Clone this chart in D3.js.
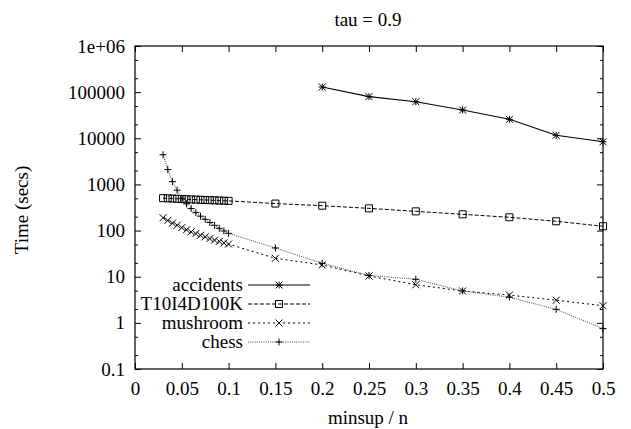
<!DOCTYPE html>
<html>
<head>
<meta charset="utf-8">
<script src="https://cdn.jsdelivr.net/npm/d3@7.9.0/dist/d3.min.js"></script>
<style>
  body { margin: 0; background: #fff; }
  svg { display: block; }
</style>
</head>
<body>
<svg id="chart" width="631" height="429"></svg>
<script>
// values
const xLeft = [0.03, 0.035, 0.04, 0.045, 0.05, 0.055, 0.06, 0.065, 0.07, 0.075, 0.08, 0.085, 0.09, 0.095, 0.1];
const xRight = [0.15, 0.2, 0.25, 0.3, 0.35, 0.4, 0.45, 0.5];

const accidentsX = [0.2, 0.25, 0.3, 0.35, 0.4, 0.45, 0.5];
const accidents = [129000, 80000, 62000, 41000, 25800, 11600, 8400];

const t10 = [505, 500, 494, 488, 483, 478, 474, 469, 465, 460, 456, 452, 448, 444, 440,
             385, 346, 303, 261, 225, 194, 159, 124];
const mushroom = [190, 165, 145, 130, 116, 104, 94, 86, 79, 73, 67, 62, 58, 54, 51,
                  25, 18, 10.4, 6.7, 4.9, 4.0, 3.1, 2.35];
const chess = [4400, 2100, 1150, 750, 500, 380, 300, 245, 205, 175, 150, 130, 112, 98, 87,
               42, 19.5, 10.7, 8.8, 4.9, 3.6, 1.96, 0.75];

const xTicks = [0, 0.05, 0.1, 0.15, 0.2, 0.25, 0.3, 0.35, 0.4, 0.45, 0.5];
const yTicks = [0.1, 1, 10, 100, 1000, 10000, 100000, 1000000];
const yTickLabels = ["0.1", "1", "10", "100", "1000", "10000", "100000", "1e+06"];
const seriesNames = ["accidents", "T10I4D100K", "mushroom", "chess"];

const svg = d3.select('#chart');
const m = { left: 135, right: 603, top: 46, bottom: 369 };

const x = d3.scaleLinear().domain([0, 0.5]).range([m.left, m.right]);
const y = d3.scaleLog().domain([0.1, 1e6]).range([m.bottom, m.top]);

const fs = 19;
const font = '"Liberation Serif", "Times New Roman", Times, "DejaVu Serif", serif';

// minor ticks on log axis
const yMinor = [];
for (const d of yTicks.slice(0, -1)) {
  yMinor.push(d * 2, d * 5);
}

// axes, ticks pointing inward (gnuplot style)
function styleAxis(g) {
  g.select('.domain').remove();
  g.attr('font-family', null).attr('font-size', null);
  g.selectAll('line').attr('stroke', '#000').attr('stroke-width', 1);
  g.selectAll('text').style('font-family', font).style('font-size', fs + 'px').attr('fill', '#000');
}

svg.append('g')
  .attr('transform', `translate(0,${m.bottom})`)
  .call(d3.axisBottom(x).tickValues(xTicks).tickFormat(d3.format('~g')).tickSize(-6).tickPadding(13))
  .call(styleAxis);
svg.append('g')
  .attr('transform', `translate(0,${m.top})`)
  .call(d3.axisTop(x).tickValues(xTicks).tickFormat('').tickSize(-6))
  .call(styleAxis);
svg.append('g')
  .attr('transform', `translate(${m.left},0)`)
  .call(d3.axisLeft(y).tickValues(yTicks).tickFormat((d, i) => yTickLabels[i]).tickSize(-6).tickPadding(10))
  .call(styleAxis);
svg.append('g')
  .attr('transform', `translate(${m.right},0)`)
  .call(d3.axisRight(y).tickValues(yTicks).tickFormat('').tickSize(-6))
  .call(styleAxis);
svg.append('g')
  .attr('transform', `translate(${m.left},0)`)
  .call(d3.axisLeft(y).tickValues(yMinor).tickFormat('').tickSize(-3))
  .call(styleAxis);
svg.append('g')
  .attr('transform', `translate(${m.right},0)`)
  .call(d3.axisRight(y).tickValues(yMinor).tickFormat('').tickSize(-3))
  .call(styleAxis);

// frame
svg.append('rect')
  .attr('x', m.left).attr('y', m.top)
  .attr('width', m.right - m.left).attr('height', m.bottom - m.top)
  .attr('fill', 'none').attr('stroke', '#000').attr('stroke-width', 1.2);

// titles
function label(xp, yp, txt, rot) {
  return svg.append('text')
    .attr('transform', `translate(${xp},${yp})` + (rot ? ` rotate(${rot})` : ''))
    .attr('text-anchor', 'middle')
    .style('font-family', font).style('font-size', fs + 'px').attr('fill', '#000')
    .text(txt);
}
label(368, 26, 'tau = 0.9');
label(368, 424, 'minsup / n');
label(28, 210, 'Time (secs)', -90);

// markers
function marker(g, type, cx, cy) {
  const s = 3.5;
  const path = {
    star: `M${cx - s},${cy}H${cx + s}M${cx},${cy - s}V${cy + s}M${cx - s},${cy - s}L${cx + s},${cy + s}M${cx - s},${cy + s}L${cx + s},${cy - s}`,
    square: `M${cx - s},${cy - s}H${cx + s}V${cy + s}H${cx - s}Z`,
    cross: `M${cx - s},${cy - s}L${cx + s},${cy + s}M${cx - s},${cy + s}L${cx + s},${cy - s}`,
    plus: `M${cx - s},${cy}H${cx + s}M${cx},${cy - s}V${cy + s}`
  }[type];
  g.append('path').attr('d', path).attr('fill', 'none').attr('stroke', '#000').attr('stroke-width', 1);
}

const allX = xLeft.concat(xRight);
const series = [
  { name: seriesNames[0], xs: accidentsX, ys: accidents, dash: null, mark: 'star', color: '#000', w: 1.1 },
  { name: seriesNames[1], xs: allX, ys: t10, dash: '4,2', mark: 'square', color: '#000', w: 1 },
  { name: seriesNames[2], xs: allX, ys: mushroom, dash: '2,3', mark: 'cross', color: '#000', w: 1 },
  { name: seriesNames[3], xs: allX, ys: chess, dash: '1,1.2', mark: 'plus', color: '#444', w: 1 }
];

const line = d3.line().x(d => x(d[0])).y(d => y(d[1]));

series.forEach(s => {
  const pts = s.xs.map((v, i) => [v, s.ys[i]]);
  const g = svg.append('g');
  g.append('path').attr('d', line(pts))
    .attr('fill', 'none').attr('stroke', s.color).attr('stroke-width', s.w)
    .attr('stroke-dasharray', s.dash);
  pts.forEach(p => marker(g, s.mark, x(p[0]), y(p[1])));
});

// legend
const legY = d3.scalePoint().domain(seriesNames).range([285, 342]);
series.forEach(s => {
  const ly = legY(s.name);
  const g = svg.append('g');
  g.append('text').attr('x', 243).attr('y', ly).attr('dy', '0.32em').attr('text-anchor', 'end')
    .style('font-family', font).style('font-size', fs + 'px').attr('fill', '#000')
    .text(s.name);
  g.append('line').attr('x1', 248).attr('x2', 310).attr('y1', ly).attr('y2', ly)
    .attr('stroke', s.color).attr('stroke-width', s.w).attr('stroke-dasharray', s.dash);
  marker(g, s.mark, 279, ly);
});
</script>
</body>
</html>
